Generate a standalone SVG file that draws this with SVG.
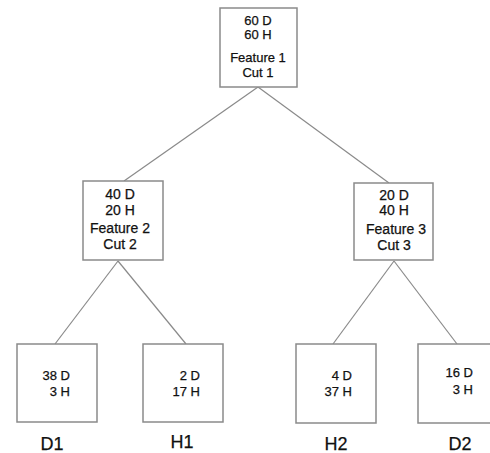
<svg xmlns="http://www.w3.org/2000/svg" width="490" height="453" viewBox="0 0 490 453">
<style>
.box{fill:#fff;stroke:#8a8a8a;stroke-width:1.5}
.ln{fill:none;stroke:#8a8a8a;stroke-width:1.2}
text{font-family:"Liberation Sans",Arial,sans-serif;fill:#111;stroke:#111;stroke-width:0.25}
.t{font-size:13px;text-anchor:middle}
.m{font-size:14px;text-anchor:middle}
.s{font-size:13px;text-anchor:end}
.lb{font-size:18px;text-anchor:middle}
</style>
<rect width="490" height="453" fill="#fff"/>
<g id="connectors">
<path class="ln" d="M258,87 L124,181"/>
<path class="ln" d="M258,87 L389,183"/>
<path class="ln" d="M118,261 L55,344"/>
<path class="ln" d="M118,261 L186,344"/>
<path class="ln" d="M394,261 L333,344"/>
<path class="ln" d="M394,261 L457,344"/>
</g>
<g id="root">
<rect class="box" x="220" y="8" width="77" height="79"/>
<text class="t" x="258" y="25">60 D</text>
<text class="t" x="258" y="39">60 H</text>
<text class="t" x="258" y="62">Feature 1</text>
<text class="t" x="258" y="77">Cut 1</text>
</g>
<g id="n2">
<rect class="box" x="83" y="181" width="80" height="79"/>
<text class="m" x="120" y="199">40 D</text>
<text class="m" x="120" y="215">20 H</text>
<text class="m" x="120" y="233">Feature 2</text>
<text class="m" x="120" y="249">Cut 2</text>
</g>
<g id="n3">
<rect class="box" x="354" y="183" width="79" height="77"/>
<text class="m" x="394" y="200">20 D</text>
<text class="m" x="394" y="215">40 H</text>
<text class="m" x="396" y="234">Feature 3</text>
<text class="m" x="394" y="250">Cut 3</text>
</g>
<g id="d1">
<rect class="box" x="17" y="344" width="80" height="78"/>
<text class="s" x="70" y="380">38 D</text>
<text class="s" x="70" y="396">3 H</text>
<text class="lb" x="52" y="450">D1</text>
</g>
<g id="h1">
<rect class="box" x="143" y="344" width="80" height="78"/>
<text class="s" x="200" y="380">2 D</text>
<text class="s" x="200" y="396">17 H</text>
<text class="lb" x="182" y="448">H1</text>
</g>
<g id="h2">
<rect class="box" x="296" y="344" width="80" height="79"/>
<text class="s" x="352" y="380">4 D</text>
<text class="s" x="352" y="396">37 H</text>
<text class="lb" x="336" y="450">H2</text>
</g>
<g id="d2">
<rect class="box" x="418" y="344" width="73" height="79"/>
<text class="s" x="473" y="377">16 D</text>
<text class="s" x="473" y="394">3 H</text>
<text class="lb" x="460" y="450">D2</text>
</g>
</svg>
